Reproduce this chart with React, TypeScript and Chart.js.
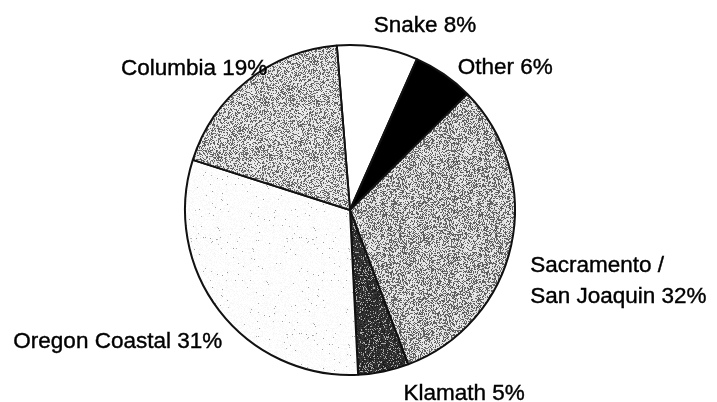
import React, { useEffect, useRef } from "react";
import { Chart, registerables } from "chart.js";

Chart.register(...registerables);

const categories = ["Snake", "Other", "Sacramento / San Joaquin", "Klamath", "Oregon Coastal", "Columbia"];
const shares = [8, 6, 32, 5, 31, 19];
const labelLines = [["Snake 8%"], ["Other 6%"], ["Sacramento /", "San Joaquin 32%"], ["Klamath 5%"], ["Oregon Coastal 31%"], ["Columbia 19%"]];
const labelAlign = ["left", "left", "left", "left", "right", "right"];
const labelNudge = [[-4, -15], [14, 0], [19, 27], [20, 28], [3, 37], [20, -6]];

// stipple styles: [base light, dark value, probability of dark pixel]; null = solid colour
const textures: any[] = [
  "#ffffff",
  "#000000",
  [228, 80, 0.42],
  [170, 25, 0.85],
  [255, 150, 0.012],
  [232, 85, 0.38],
];

function makePattern(light: number, dark: number, p: number, seed: number) {
  const size = 96;
  const c = document.createElement("canvas");
  c.width = size;
  c.height = size;
  const ctx = c.getContext("2d")!;
  const img = ctx.createImageData(size, size);
  let s = seed;
  const rnd = () => {
    s = (s * 1103515245 + 12345) & 0x7fffffff;
    return s / 0x7fffffff;
  };
  for (let i = 0; i < size * size; i++) {
    const r = rnd();
    let v = r < p ? dark + rnd() * 40 : light + (rnd() - 0.5) * 20;
    v = Math.max(0, Math.min(255, v));
    img.data[i * 4] = v;
    img.data[i * 4 + 1] = v;
    img.data[i * 4 + 2] = v;
    img.data[i * 4 + 3] = 255;
  }
  ctx.putImageData(img, 0, 0);
  return ctx.createPattern(c, "repeat")!;
}

const labelPlugin = {
  id: "sliceLabels",
  afterDatasetsDraw(chart: any) {
    const ctx = chart.ctx;
    const meta = chart.getDatasetMeta(0);
    ctx.save();
    ctx.font = "22.5px 'Liberation Sans', Arial, sans-serif";
    ctx.fillStyle = "#000";
    ctx.strokeStyle = "#000";
    ctx.lineWidth = 0.4;
    ctx.textBaseline = "alphabetic";
    meta.data.forEach((el: any, i: number) => {
      const { x, y, startAngle, endAngle, outerRadius } = el.getProps(
        ["x", "y", "startAngle", "endAngle", "outerRadius"],
        true
      );
      const mid = (startAngle + endAngle) / 2;
      const ax = x + Math.cos(mid) * outerRadius + labelNudge[i][0];
      const ay = y + Math.sin(mid) * outerRadius + labelNudge[i][1];
      ctx.textAlign = labelAlign[i];
      labelLines[i].forEach((line, j) => {
        ctx.fillText(line, ax, ay + j * 31);
        ctx.strokeText(line, ax, ay + j * 31);
      });
    });
    ctx.restore();
  },
};

export default function App() {
  const ref = useRef<HTMLCanvasElement>(null);
  useEffect(() => {
    document.body.style.margin = "0";
    const bg = textures.map((t, i) =>
      typeof t === "string" ? t : makePattern(t[0], t[1], t[2], 1234 + i * 777)
    );
    const chart = new Chart(ref.current!, {
      type: "pie",
      data: {
        labels: categories,
        datasets: [
          {
            data: shares,
            backgroundColor: bg as any,
            borderColor: "#111",
            borderWidth: 2,
          },
        ],
      },
      options: {
        responsive: false,
        animation: false,
        rotation: -4.6,
        radius: 165,
        layout: { padding: { left: 0, right: 17, top: 18, bottom: 0 } },
        plugins: { legend: { display: false }, tooltip: { enabled: false } },
      },
      plugins: [labelPlugin],
    });
    return () => chart.destroy();
  }, []);
  return (
    <div style={{ position: "fixed", left: 0, top: 0, width: 717, height: 402, background: "#fff" }}>
      <canvas ref={ref} width={717} height={402} />
    </div>
  );
}
